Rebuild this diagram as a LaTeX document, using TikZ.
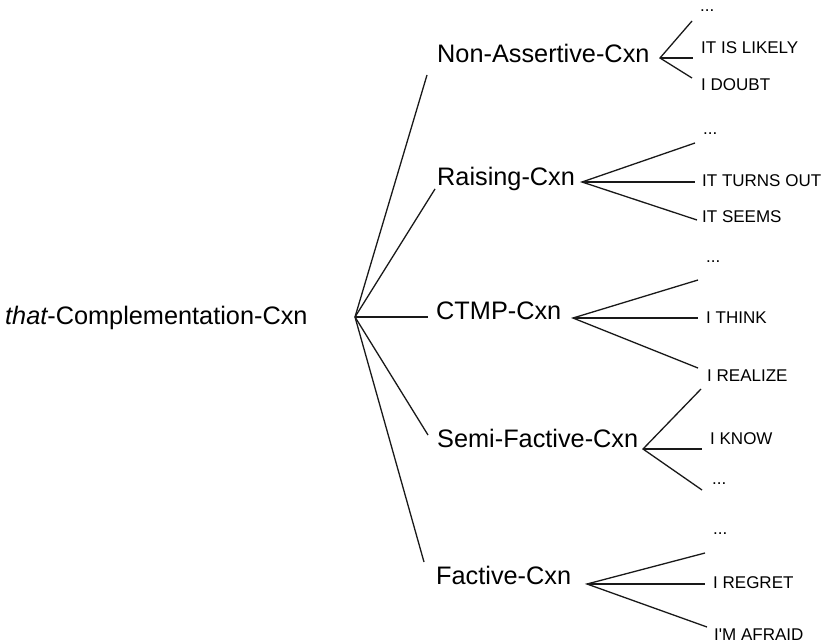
\documentclass[tikz,border=0pt]{standalone}
\usepackage{fontspec}
\setmainfont{Liberation Sans}
\begin{document}
\begin{tikzpicture}[x=1pt,y=-1pt,
  midlabel/.style={font=\fontsize{25.3}{30}\selectfont, inner sep=0pt, anchor=base west},
  leaf/.style={font=\fontsize{17}{20}\selectfont, inner sep=0pt, anchor=base west},
  edge/.style={line width=1.3pt, black!90}]
\useasboundingbox (0,0) rectangle (829,642);
% root
\node[midlabel] (root) at (5,324) {\itshape that\upshape-Complementation-Cxn};
% middle level
\node[midlabel] (na) at (437,63) {Non-Assertive-Cxn};
\node[midlabel] (ra) at (437,185) {Raising-Cxn};
\node[midlabel] (ct) at (436,319) {CTMP-Cxn};
\node[midlabel] (sf) at (437,447) {Semi-Factive-Cxn};
\node[midlabel] (fa) at (436,584) {Factive-Cxn};
% leaves
\node[leaf] (na1) at (700,12) {...};
\node[leaf] (na2) at (701,53) {IT IS LIKELY};
\node[leaf] (na3) at (701,90) {I DOUBT};
\node[leaf] (ra1) at (703,134) {...};
\node[leaf] (ra2) at (702,186) {IT TURNS OUT};
\node[leaf] (ra3) at (702,222) {IT SEEMS};
\node[leaf] (ct1) at (706,262) {...};
\node[leaf] (ct2) at (706,323) {I THINK};
\node[leaf] (ct3) at (707,381) {I REALIZE};
\node[leaf] (sf1) at (710,444) {I KNOW};
\node[leaf] (sf2) at (712,484) {...};
\node[leaf] (fa1) at (713,534) {...};
\node[leaf] (fa2) at (713,588) {I REGRET};
\node[leaf] (fa3) at (714,640) {\addfontfeature{Ligatures=TeXOff}I'M AFRAID};
% connector points
\coordinate (r) at (355,317);
\coordinate (naI) at (427,75);
\coordinate (raI) at (435,189);
\coordinate (ctI) at (428,317);
\coordinate (sfI) at (428,435);
\coordinate (faI) at (424,562);
\coordinate (naO) at (660,58);
\coordinate (raO) at (582,182);
\coordinate (ctO) at (573,318);
\coordinate (sfO) at (643,449);
\coordinate (faO) at (587,584);
\coordinate (na1e) at (692,21);
\coordinate (na2e) at (693,58);
\coordinate (na3e) at (692,78);
\coordinate (ra1e) at (695,143);
\coordinate (ra2e) at (695,182);
\coordinate (ra3e) at (697,220);
\coordinate (ct1e) at (698,280);
\coordinate (ct2e) at (698,318);
\coordinate (ct3e) at (698,368);
\coordinate (sf0e) at (701,389);
\coordinate (sf1e) at (702,449);
\coordinate (sf2e) at (702,490);
\coordinate (fa1e) at (705,553);
\coordinate (fa2e) at (705,584);
\coordinate (fa3e) at (707,627);
% connectors
\draw[edge] (r) -- (naI);
\draw[edge] (r) -- (raI);
\draw[edge] (r) -- (ctI);
\draw[edge] (r) -- (sfI);
\draw[edge] (r) -- (faI);
\draw[edge] (na1e) -- (naO) -- (na3e);
\draw[edge] (naO) -- (na2e);
\draw[edge] (ra1e) -- (raO) -- (ra3e);
\draw[edge] (raO) -- (ra2e);
\draw[edge] (ct1e) -- (ctO) -- (ct3e);
\draw[edge] (ctO) -- (ct2e);
\draw[edge] (sf0e) -- (sfO) -- (sf2e);
\draw[edge] (sfO) -- (sf1e);
\draw[edge] (fa1e) -- (faO) -- (fa3e);
\draw[edge] (faO) -- (fa2e);
\end{tikzpicture}
\end{document}
